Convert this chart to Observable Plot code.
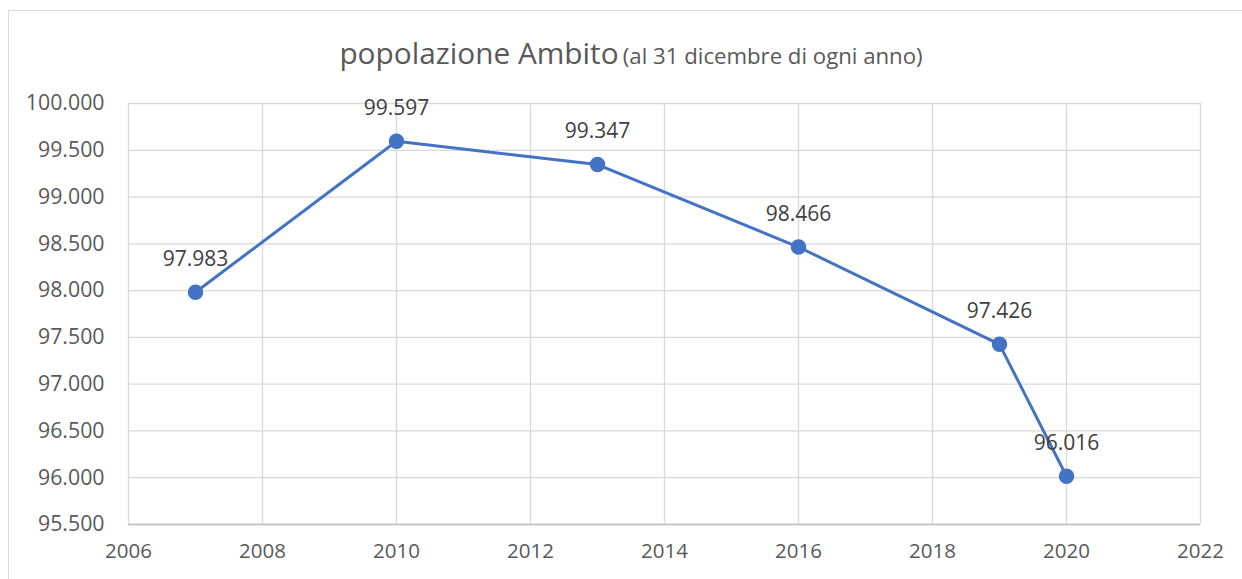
<!DOCTYPE html>
<html><head><meta charset="utf-8">
<script src="https://cdn.jsdelivr.net/npm/d3@7"></script>
<script src="https://cdn.jsdelivr.net/npm/@observablehq/plot@0.6"></script>
<style>
body{margin:0;background:#fff;overflow:hidden;}
#wrap{position:relative;width:1242px;height:579px;}
#frame{position:absolute;left:8px;top:10px;width:1260px;height:620px;border:1px solid #d9d9d9;box-sizing:border-box;}
#title{position:absolute;left:0;top:32px;width:1262px;text-align:center;font-family:"Open Sans",sans-serif;color:#595959;white-space:nowrap;}
#title .big{font-size:29.8px;}
#title .small{font-size:22.2px;}
#chart{position:absolute;left:0;top:0;}
</style></head>
<body>
<div id="wrap">
<div id="frame"></div>
<div id="title"><span class="big">popolazione Ambito</span> <span class="small">(al 31 dicembre di ogni anno)</span></div>
<div id="chart"></div>
</div>
<script>
const years = [2007, 2010, 2013, 2016, 2019, 2020];
const population = [97983, 99597, 99347, 98466, 97426, 96016];
const xTicks = [2006, 2008, 2010, 2012, 2014, 2016, 2018, 2020, 2022];
const yTicks = [95500, 96000, 96500, 97000, 97500, 98000, 98500, 99000, 99500, 100000];

const it = d3.formatLocale({decimal: ",", thousands: ".", grouping: [3], currency: ["€", ""]});
const fmt = it.format(",.0f");
const data = years.map((y, i) => ({year: y, value: population[i]}));
const font = "'Open Sans', sans-serif";

const plot = Plot.plot({
  width: 1242,
  height: 579,
  marginTop: 103,
  marginBottom: 55,
  marginLeft: 128,
  marginRight: 42,
  style: {fontFamily: font, fontSize: "20px", color: "#595959", background: "transparent"},
  x: {domain: [2006, 2022], label: null},
  y: {domain: [95500, 100000], label: null},
  marks: [
    Plot.gridX(xTicks, {stroke: "#d9d9d9", strokeOpacity: 1, strokeWidth: 1.3}),
    Plot.gridY(yTicks, {stroke: "#d9d9d9", strokeOpacity: 1, strokeWidth: 1.3}),
    Plot.ruleY([95500], {stroke: "#bfbfbf", strokeWidth: 1.5}),
    Plot.axisX({ticks: xTicks, tickFormat: d => String(d), tickSize: 0, tickPadding: 19, fill: "#595959", fontSize: 20.5}),
    Plot.axisY({ticks: yTicks, tickFormat: fmt, tickSize: 0, tickPadding: 24, fill: "#595959", fontSize: 21.3}),
    Plot.line(data, {x: "year", y: "value", stroke: "#4472C4", strokeWidth: 3}),
    Plot.dot(data, {x: "year", y: "value", r: 7, fill: "#4472C4", stroke: "#4472C4"}),
    Plot.text(data, {x: "year", y: "value", text: d => fmt(d.value), dy: -33, fill: "#404040", fontSize: 21})
  ]
});
document.getElementById("chart").appendChild(plot);
</script>
</body></html>
